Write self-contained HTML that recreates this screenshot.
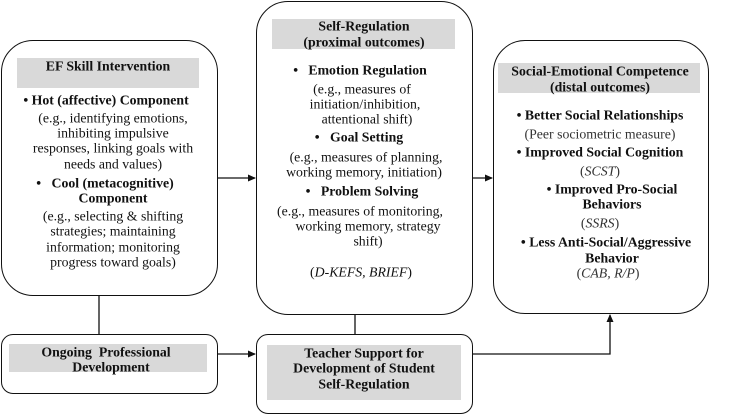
<!DOCTYPE html>
<html><head><meta charset="utf-8"><style>
html,body{margin:0;padding:0;background:#fff;}
body{width:748px;height:414px;position:relative;overflow:hidden;font-family:"Liberation Serif",serif;color:#111;}
.box{position:absolute;border:1.5px solid #111;background:#fff;box-sizing:border-box;}
.hd{position:absolute;background:#d9d9d9;}
.t{position:absolute;white-space:nowrap;font-size:13.8px;line-height:15px;transform:translate(-50%,-50%);}
.b{font-weight:bold;}
.i{font-style:italic;}
</style></head><body>
<svg width="748" height="414" style="position:absolute;left:0;top:0">
<defs><marker id="a" markerWidth="8" markerHeight="8" refX="7" refY="4" orient="auto" markerUnits="userSpaceOnUse"><path d="M0,0.5 L8,4 L0,7.5z" fill="#111"/></marker></defs>
<g stroke="#111" stroke-width="1.3" fill="none">
<line x1="99" y1="295" x2="99" y2="334"/>
<line x1="355" y1="314" x2="355" y2="335"/>
<line x1="217" y1="178" x2="255" y2="178" marker-end="url(#a)"/>
<line x1="472" y1="178" x2="492" y2="178" marker-end="url(#a)"/>
<line x1="217" y1="354" x2="255" y2="354" marker-end="url(#a)"/>
<polyline points="472,354 610,354 610,315" marker-end="url(#a)"/>
</g></svg>
<div class="box" style="left:1px;top:40px;width:217px;height:256px;border-radius:32px"></div>
<div class="hd" style="left:17px;top:58px;width:182px;height:30px"></div>
<div class="box" style="left:256px;top:1px;width:217px;height:314px;border-radius:32px"></div>
<div class="hd" style="left:272px;top:19px;width:183px;height:30px"></div>
<div class="box" style="left:493px;top:40px;width:216px;height:274px;border-radius:32px"></div>
<div class="hd" style="left:498px;top:63px;width:202px;height:30px"></div>
<div class="box" style="left:1px;top:334px;width:217px;height:60px;border-radius:12px"></div>
<div class="hd" style="left:9px;top:344px;width:198px;height:28px"></div>
<div class="box" style="left:256px;top:334px;width:217px;height:80px;border-radius:12px"></div>
<div class="hd" style="left:267px;top:345px;width:194px;height:55px"></div>

<div class="t b" style="left:108px;top:66px">EF Skill Intervention</div>
<div class="t b" style="left:106px;top:100px">• Hot (affective) Component</div>
<div class="t" style="left:113px;top:118px">(e.g., identifying emotions,</div>
<div class="t" style="left:113px;top:133px">inhibiting impulsive</div>
<div class="t" style="left:113px;top:148px">responses, linking goals with</div>
<div class="t" style="left:113px;top:164px">needs and values)</div>
<div class="t b" style="left:105px;top:183px">•&nbsp;&nbsp; Cool (metacognitive)</div>
<div class="t b" style="left:113px;top:198px">Component</div>
<div class="t" style="left:113px;top:216px">(e.g., selecting &amp; shifting</div>
<div class="t" style="left:113px;top:231px">strategies; maintaining</div>
<div class="t" style="left:113px;top:247px">information; monitoring</div>
<div class="t" style="left:113px;top:262px">progress toward goals)</div>

<div class="t b" style="left:364px;top:26px">Self-Regulation</div>
<div class="t b" style="left:364px;top:42px">(proximal outcomes)</div>
<div class="t b" style="left:360px;top:70px">•&nbsp;&nbsp; Emotion Regulation</div>
<div class="t" style="left:362px;top:89px">(e.g., measures of</div>
<div class="t" style="left:365px;top:104px">initiation/inhibition,</div>
<div class="t" style="left:367px;top:119px">attentional shift)</div>
<div class="t b" style="left:359px;top:137px">•&nbsp;&nbsp; Goal Setting</div>
<div class="t" style="left:366px;top:157px">(e.g., measures of planning,</div>
<div class="t" style="left:364px;top:172px">working memory, initiation)</div>
<div class="t b" style="left:362px;top:191px">•&nbsp;&nbsp; Problem Solving</div>
<div class="t" style="left:360px;top:211px">(e.g., measures of monitoring,</div>
<div class="t" style="left:368px;top:226px">working memory, strategy</div>
<div class="t" style="left:368px;top:241px">shift)</div>
<div class="t" style="left:361px;top:272px">(<i>D-KEFS, BRIEF</i>)</div>

<div class="t b" style="left:600px;top:71px">Social-Emotional Competence</div>
<div class="t b" style="left:600px;top:87px">(distal outcomes)</div>
<div class="t b" style="left:600px;top:115px">• Better Social Relationships</div>
<div class="t" style="left:600px;top:134px;color:#333">(Peer sociometric measure)</div>
<div class="t b" style="left:600px;top:152px">• Improved Social Cognition</div>
<div class="t" style="left:600px;top:171px;color:#333">(<i>SCST</i>)</div>
<div class="t b" style="left:612px;top:189px">• Improved Pro-Social</div>
<div class="t b" style="left:612px;top:204px">Behaviors</div>
<div class="t" style="left:600px;top:223px;color:#333">(<i>SSRS</i>)</div>
<div class="t b" style="left:606px;top:242px">• Less Anti-Social/Aggressive</div>
<div class="t b" style="left:612px;top:258px">Behavior</div>
<div class="t" style="left:608px;top:273px;color:#333">(<i>CAB, R/P</i>)</div>

<div class="t b" style="left:106px;top:352px">Ongoing&nbsp; Professional</div>
<div class="t b" style="left:111px;top:367px">Development</div>

<div class="t b" style="left:364px;top:353px">Teacher Support for</div>
<div class="t b" style="left:364px;top:368px">Development of Student</div>
<div class="t b" style="left:364px;top:384px">Self-Regulation</div>
</body></html>
